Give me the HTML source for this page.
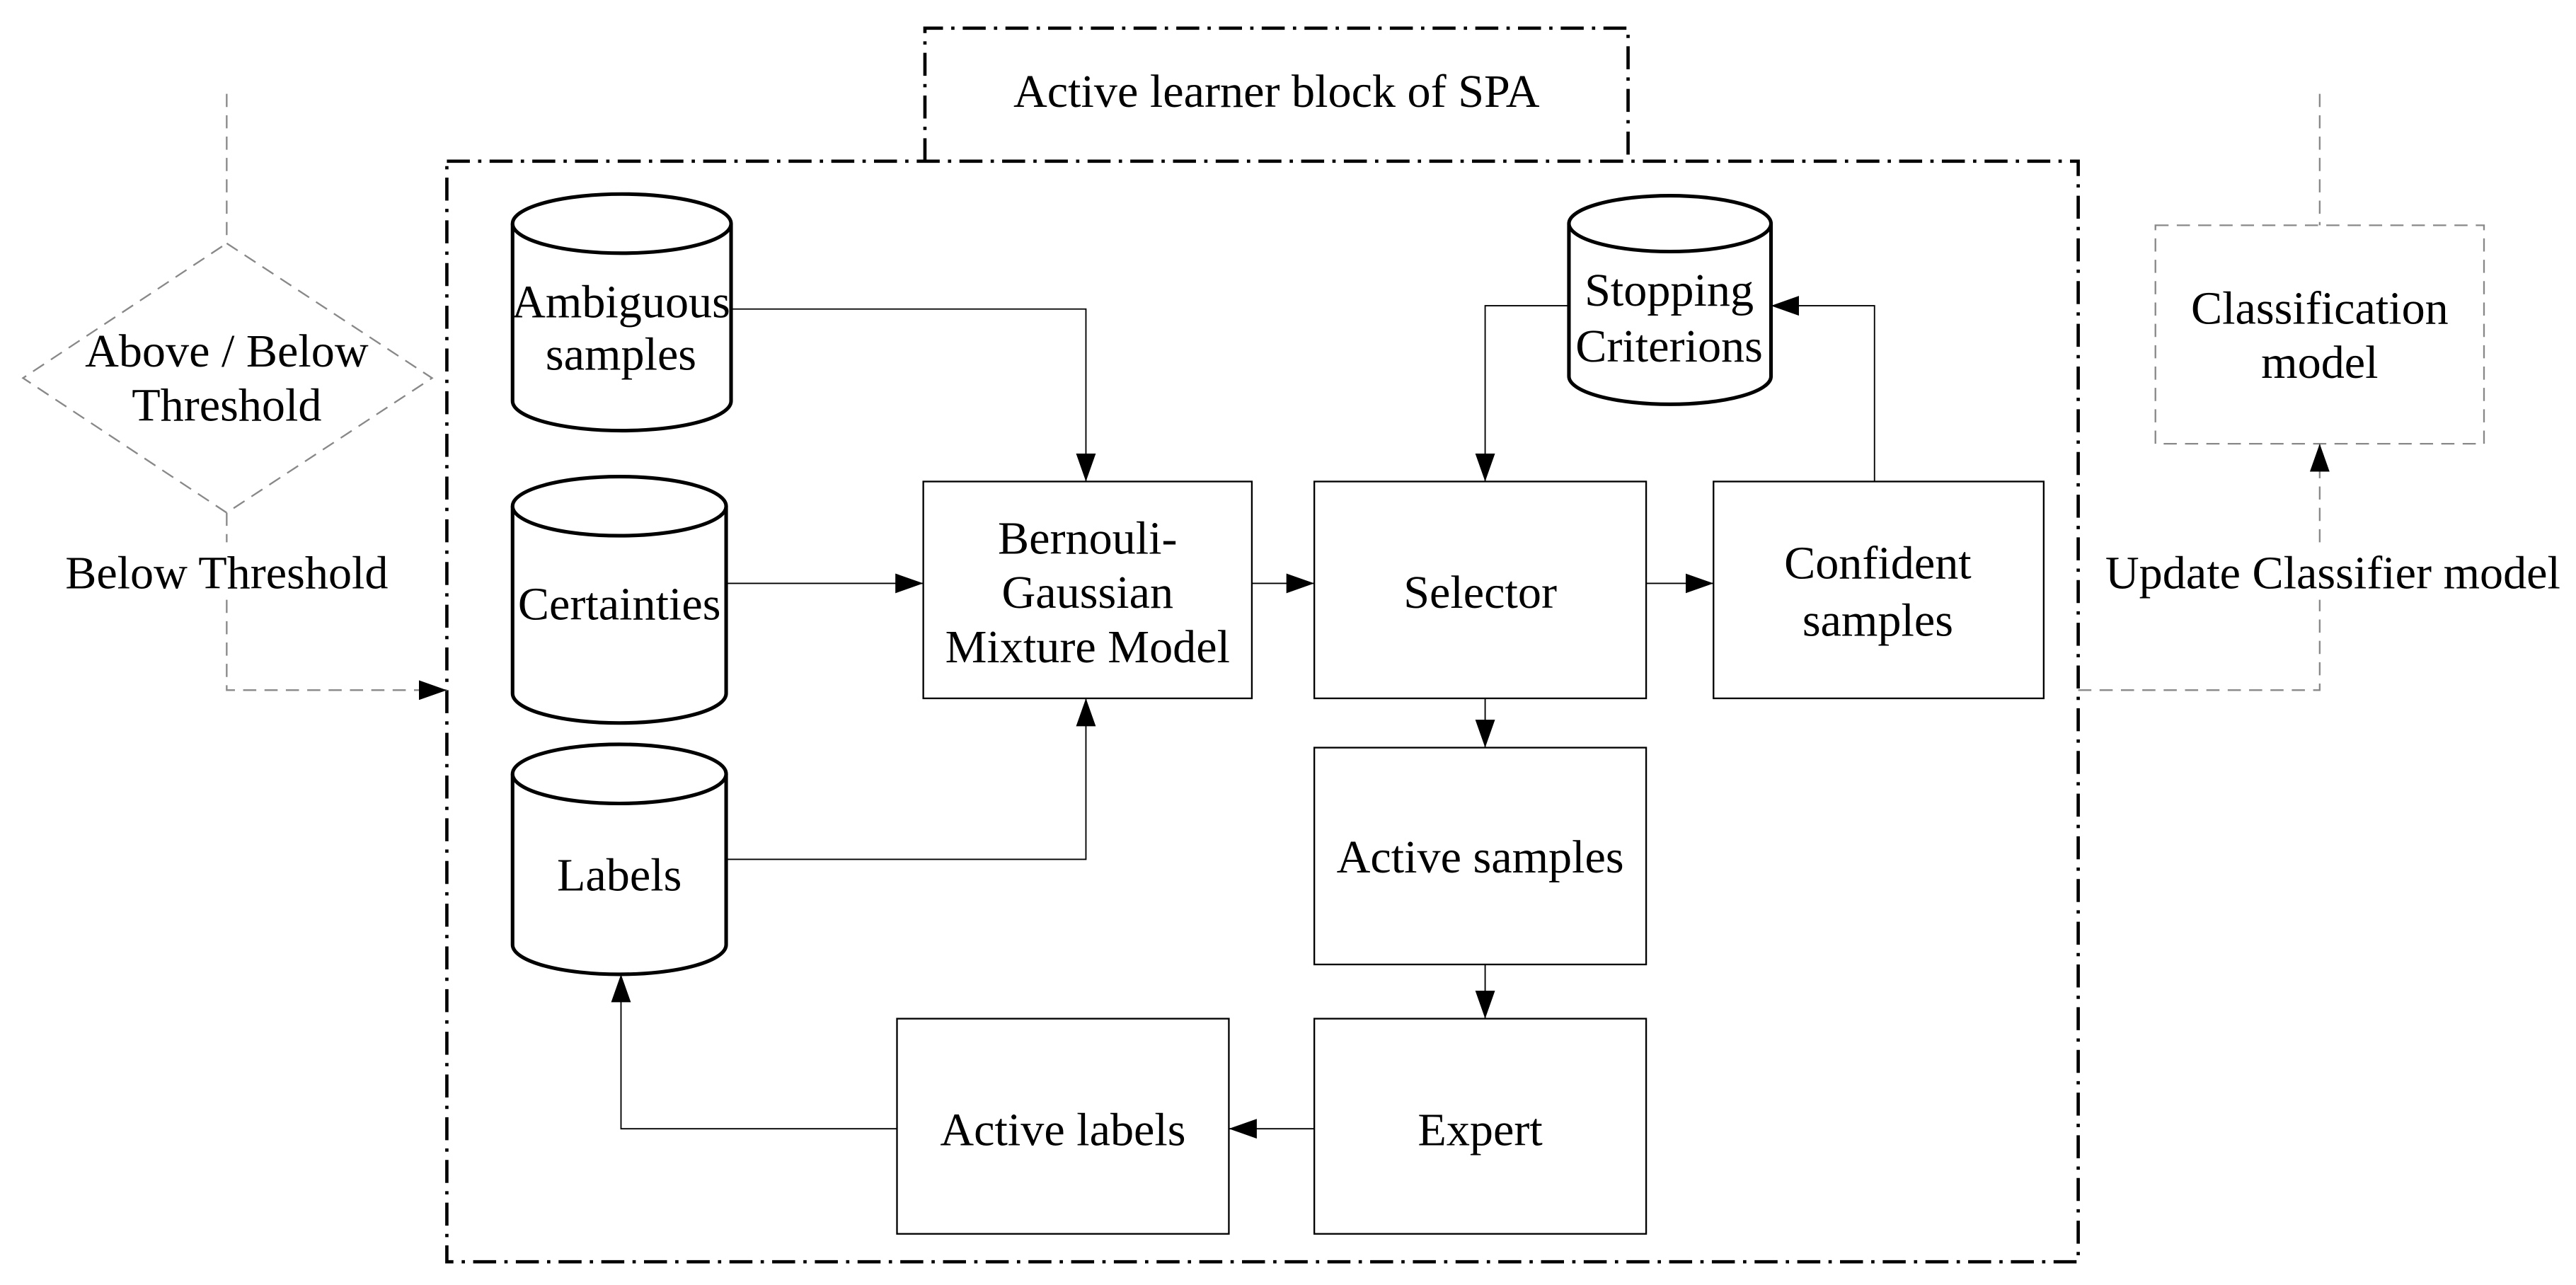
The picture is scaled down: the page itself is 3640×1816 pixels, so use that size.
<!DOCTYPE html>
<html><head><meta charset="utf-8"><style>
html,body{margin:0;padding:0;background:#fff;}
svg{display:block;}
text{font-family:"Liberation Serif",serif;font-size:28.5px;fill:#000;text-anchor:middle;}
</style></head><body>
<svg width="3640" height="1816" viewBox="0 0 1568 782" xmlns="http://www.w3.org/2000/svg">
<defs>
<marker id="a" markerUnits="userSpaceOnUse" markerWidth="18" markerHeight="12" refX="17" refY="6" orient="auto">
<path d="M0,0 L17,6 L0,12 Z" fill="#000"/></marker>
</defs>
<rect width="1568" height="782" fill="#fff"/>
<g fill="none" stroke="#000" stroke-width="2" stroke-dasharray="14,5,2,5">
<path d="M563,98 L563,17 L991,17 L991,98"/>
<rect x="272" y="98" width="993" height="670"/>
</g>
<text x="777" y="65">Active learner block of SPA</text>
<g fill="none" stroke="#888" stroke-width="1" stroke-dasharray="8,5">
<path d="M138,57 L138,148"/>
<path d="M138,148 L263,230 L138,312 L14,230 Z"/>
<path d="M138,312 L138,330"/>
<path d="M138,365 L138,420 L272,420" marker-end="url(#a)"/>
<path d="M1412,57 L1412,137"/>
<rect x="1312" y="137" width="200" height="133"/>
<path d="M1265,420 L1412,420 L1412,365"/>
<path d="M1412,330 L1412,270" marker-end="url(#a)"/>
</g>
<text x="138" y="223">Above / Below</text>
<text x="138" y="256">Threshold</text>
<text x="138" y="358">Below Threshold</text>
<text x="1412" y="197">Classification</text>
<text x="1412" y="230">model</text>
<text x="1420" y="358">Update Classifier model</text>
<g fill="#fff" stroke="#000" stroke-width="2.2">
<path d="M312,136 L312,244 A66.5,18 0 0 0 445,244 L445,136"/><ellipse cx="378.5" cy="136" rx="66.5" ry="18"/>
<path d="M312,308 L312,422 A65,18 0 0 0 442,422 L442,308"/><ellipse cx="377" cy="308" rx="65" ry="18"/>
<path d="M312,471 L312,575 A65,18 0 0 0 442,575 L442,471"/><ellipse cx="377" cy="471" rx="65" ry="18"/>
<path d="M955,136 L955,229 A61.5,17 0 0 0 1078,229 L1078,136"/><ellipse cx="1016.5" cy="136" rx="61.5" ry="17"/>
</g>
<text x="378" y="193">Ambiguous</text>
<text x="378" y="225">samples</text>
<text x="377" y="377">Certainties</text>
<text x="377" y="542">Labels</text>
<text x="1016" y="186">Stopping</text>
<text x="1016" y="220">Criterions</text>
<g fill="none" stroke="#000" stroke-width="1">
<rect x="562" y="293" width="200" height="132"/>
<rect x="800" y="293" width="202" height="132"/>
<rect x="1043" y="293" width="201" height="132"/>
<rect x="800" y="455" width="202" height="132"/>
<rect x="800" y="620" width="202" height="131"/>
<rect x="546" y="620" width="202" height="131"/>
</g>
<text x="662" y="337">Bernouli-</text>
<text x="662" y="370">Gaussian</text>
<text x="662" y="403">Mixture Model</text>
<text x="901" y="370">Selector</text>
<text x="1143" y="352">Confident</text>
<text x="1143" y="387">samples</text>
<text x="901" y="531">Active samples</text>
<text x="901" y="697">Expert</text>
<text x="647" y="697">Active labels</text>
<g fill="none" stroke="#000" stroke-width="0.8">
<path d="M445,188 L661,188 L661,293" marker-end="url(#a)"/>
<path d="M442,355 L562,355" marker-end="url(#a)"/>
<path d="M442,523 L661,523 L661,425" marker-end="url(#a)"/>
<path d="M762,355 L800,355" marker-end="url(#a)"/>
<path d="M1002,355 L1043,355" marker-end="url(#a)"/>
<path d="M1141,293 L1141,186 L1078,186" marker-end="url(#a)"/>
<path d="M955,186 L904,186 L904,293" marker-end="url(#a)"/>
<path d="M904,425 L904,455" marker-end="url(#a)"/>
<path d="M904,587 L904,620" marker-end="url(#a)"/>
<path d="M800,687 L748,687" marker-end="url(#a)"/>
<path d="M546,687 L378,687 L378,593" marker-end="url(#a)"/>
</g>
</svg>
</body></html>
